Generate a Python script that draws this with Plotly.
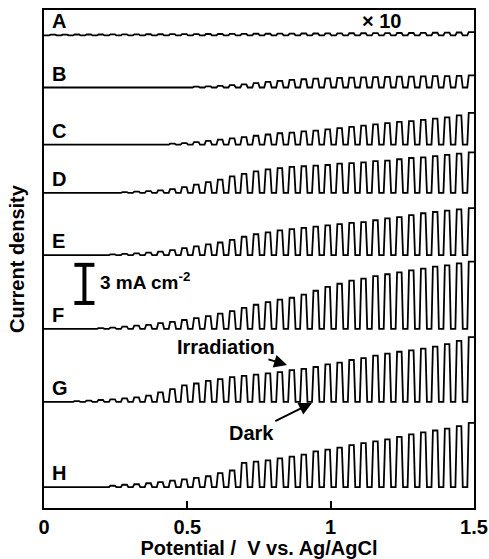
import plotly.graph_objects as go

# ---- data ----
labels = ["A", "B", "C", "D", "E", "F", "G", "H"]
# vertical offsets of each trace baseline (mA cm-2, stacking)
offsets = [37.2, 33.1, 28.6, 24.8, 19.9, 14.1, 8.35, 1.65]
n_cycles = 36            # light on/off cycles over the scan
v_start, v_end = 0.0, 1.5

# photocurrent (light minus dark) for each chopping cycle, mA cm-2
amp_A = [0.06,0.06,0.07,0.07,0.07,0.08,0.08,0.08,0.09,0.09,0.10,0.10,0.10,0.11,0.11,0.12,0.12,0.13,
         0.13,0.14,0.14,0.15,0.15,0.16,0.16,0.17,0.17,0.18,0.18,0.19,0.19,0.20,0.21,0.22,0.23,0.26]
amp_B = [0,0,0,0,0,0,0,0,0.01,0.02,0.03,0.05,0.07,0.09,0.12,0.18,0.25,0.35,
         0.45,0.52,0.60,0.65,0.70,0.72,0.75,0.78,0.80,0.82,0.83,0.85,0.86,0.88,0.89,0.90,0.92,0.95]
amp_C = [0,0,0,0,0,0,0,0.02,0.03,0.05,0.08,0.12,0.20,0.30,0.40,0.50,0.60,0.70,
         0.80,0.90,0.95,1.05,1.10,1.20,1.30,1.40,1.50,1.60,1.70,1.80,1.85,1.95,2.05,2.15,2.30,2.50]
amp_D = [0,0,0,0,0.02,0.04,0.06,0.10,0.15,0.20,0.30,0.45,0.65,0.85,1.05,1.30,1.50,1.70,
         1.85,1.95,2.05,2.10,2.15,2.20,2.30,2.35,2.40,2.50,2.55,2.65,2.75,2.80,2.90,3.00,3.10,3.20]
amp_E = [0,0,0,0.02,0.04,0.06,0.10,0.15,0.20,0.28,0.40,0.55,0.70,0.85,1.00,1.20,1.45,1.65,
         1.80,1.95,2.05,2.15,2.25,2.35,2.45,2.55,2.60,2.75,2.90,3.00,3.15,3.30,3.40,3.50,3.60,3.70]
amp_F = [0,0,0,0.02,0.06,0.10,0.18,0.25,0.32,0.45,0.55,0.70,0.85,1.00,1.20,1.40,1.65,1.90,
         2.10,2.30,2.45,2.70,3.00,3.30,3.55,3.80,3.95,4.15,4.30,4.45,4.60,4.75,4.90,5.00,5.15,5.30]
amp_G = [0,0.03,0.06,0.10,0.15,0.20,0.28,0.35,0.50,0.75,1.00,1.30,1.45,1.65,1.80,1.95,2.05,2.15,
         2.25,2.35,2.50,2.60,2.75,2.95,3.10,3.30,3.45,3.65,3.80,3.95,4.05,4.20,4.35,4.55,4.80,5.10]
amp_H = [0,0,0,0.02,0.05,0.10,0.18,0.22,0.30,0.38,0.50,0.60,0.72,0.85,1.10,1.30,1.90,2.00,
         2.10,2.25,2.40,2.55,2.80,2.95,3.10,3.30,3.45,3.60,3.75,3.95,4.15,4.30,4.45,4.60,4.80,5.05]
amps = [amp_A, amp_B, amp_C, amp_D, amp_E, amp_F, amp_G, amp_H]

x_ticks = [0, 0.5, 1, 1.5]
x_ticktext = ["0", "0.5", "1", "1.5"]
scale_bar_value = 3.0   # mA cm-2

# ---- build chopped-light traces ----
period = (v_end - v_start) / n_cycles
tr = 0.0025

def chopped(base, amp):
    xs, ys = [v_start], [base]
    for k, a in enumerate(amp):
        rise = v_start + (k + 0.5) * period
        fall = v_start + (k + 1) * period
        top = base + a
        xs += [rise - tr, rise + tr]
        ys += [base, top]
        if k < len(amp) - 1:
            xs += [fall - tr, fall + tr]
            ys += [top, base]
        else:
            xs += [v_end]
            ys += [top]
    return xs, ys

fig = go.Figure()
for lab, off, amp in zip(labels, offsets, amps):
    xs, ys = chopped(off, amp)
    fig.add_trace(go.Scatter(x=xs, y=ys, mode="lines", name=lab,
                             line=dict(color="black", width=1.8), showlegend=False))

FONT = "Liberation Sans"
def f(size):
    return dict(family=FONT, size=size, color="black")

annotations = []
for lab, off in zip(labels, offsets):
    annotations.append(dict(x=0.022, y=off + 1.1, xref="x", yref="y", text=f"<b>{lab}</b>",
                            showarrow=False, xanchor="left", yanchor="middle", font=f(20)))

annotations.append(dict(x=1.176, y=offsets[0] + 1.1, xref="x", yref="y", text="<b>× 10</b>",
                        showarrow=False, xanchor="center", yanchor="middle", font=f(20)))
# scale bar label
sb_x, sb_bottom = 0.141, 16.14
annotations.append(dict(x=0.188, y=sb_bottom + scale_bar_value / 2 + 0.25, xref="x", yref="y",
                        text="<b>3 mA cm<sup>-2</sup></b>", showarrow=False, xanchor="left",
                        yanchor="middle", font=f(19)))
# Irradiation (text with arrow to the light-on current)
annotations.append(dict(x=0.848, y=11.26, ax=0.636, ay=12.68, xref="x", yref="y", axref="x", ayref="y",
                        text="<b>Irradiation</b>", font=f(20), showarrow=True, arrowhead=2,
                        arrowsize=1.3, arrowwidth=2, arrowcolor="black"))
# Dark (text with arrow to the dark current)
annotations.append(dict(x=0.935, y=8.27, ax=0.723, ay=5.9, xref="x", yref="y", axref="x", ayref="y",
                        text="<b>Dark</b>", font=f(20), showarrow=True, arrowhead=2,
                        arrowsize=1.3, arrowwidth=2, arrowcolor="black"))

shapes = [
    dict(type="line", xref="x", yref="y", x0=sb_x, x1=sb_x, y0=sb_bottom, y1=sb_bottom + scale_bar_value,
         line=dict(color="black", width=4)),
    dict(type="line", xref="x", yref="y", x0=sb_x - 0.035, x1=sb_x + 0.035, y0=sb_bottom, y1=sb_bottom,
         line=dict(color="black", width=4)),
    dict(type="line", xref="x", yref="y", x0=sb_x - 0.035, x1=sb_x + 0.035,
         y0=sb_bottom + scale_bar_value, y1=sb_bottom + scale_bar_value, line=dict(color="black", width=4)),
]

fig.update_layout(
    width=489, height=559,
    margin=dict(l=44, r=15, t=10, b=51),
    plot_bgcolor="white", paper_bgcolor="white",
    annotations=annotations, shapes=shapes,
    font=dict(family=FONT, color="black"),
)
fig.update_xaxes(range=[v_start, v_end], tickvals=x_ticks, ticktext=[f"<b>{t}</b>" for t in x_ticktext],
                 ticks="inside", ticklen=7, tickwidth=2, tickcolor="black", automargin=False,
                 showline=True, linewidth=2, linecolor="black", mirror=True, showgrid=False, zeroline=False,
                 tickfont=f(20),
                 title=dict(text="<b>Potential /  V vs. Ag/AgCl</b>", font=f(20), standoff=2))
fig.update_yaxes(range=[0, 39.2], showticklabels=False, ticks="", showline=True, linewidth=2,
                 linecolor="black", mirror=True, showgrid=False, zeroline=False, automargin=False,
                 title=dict(text="<b>Current density</b>", font=f(20), standoff=12))

fig.write_html("out.html")
